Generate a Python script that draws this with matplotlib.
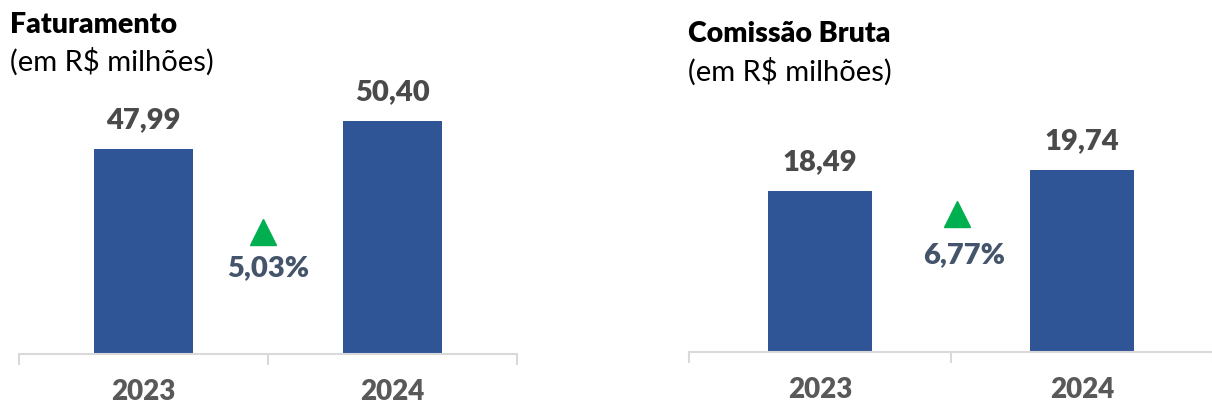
import matplotlib
matplotlib.use("Agg")
import matplotlib.pyplot as plt

plt.rcParams['font.family'] = ['Lato', 'DejaVu Sans']

years = ["2023", "2024"]
fat_values = [47.99, 50.40]
fat_labels = ["47,99", "50,40"]
fat_growth = "5,03%"
com_values = [18.49, 19.74]
com_labels = ["18,49", "19,74"]
com_growth = "6,77%"

W, H = 1212, 405
DPI = 100
fig = plt.figure(figsize=(W / DPI, H / DPI), dpi=DPI)

BAR = "#2F5597"
AXC = "#D9D9D9"
VAL = "#4A4A4A"
PCT = "#44546A"
TRI = "#00B050"
BOLD = "heavy"


def px_rect(x0, x1, ytop, ybot):
    return [x0 / W, 1 - ybot / H, (x1 - x0) / W, (ybot - ytop) / H]


def panel(rect, values, labels, ylim, growth, tri_xy, pct_xy):
    ax = fig.add_axes(rect)
    x = list(range(len(values)))
    ax.bar(x, [v - ylim[0] for v in values], bottom=ylim[0], width=0.4, color=BAR, zorder=2)
    ax.set_xlim(-0.5, 1.5)
    ax.set_ylim(*ylim)
    for s in ["top", "right", "left"]:
        ax.spines[s].set_visible(False)
    ax.spines["bottom"].set_color(AXC)
    ax.spines["bottom"].set_linewidth(1.5)
    ax.set_yticks([])
    ax.set_xticks([-0.5, 0.5, 1.5])
    ax.set_xticklabels([])
    ax.tick_params(axis="x", which="major", length=8, width=1.5, color=AXC)
    for xi, yr in zip(x, years):
        ax.annotate(yr, (xi, 0), xycoords=("data", "axes fraction"),
                    xytext=(0, -27), textcoords="offset points",
                    ha="center", va="center", fontsize=20, fontweight=BOLD, color="#595959")
    for xi, v, lab in zip(x, values, labels):
        ax.annotate(lab, (xi, v), xytext=(0, 21), textcoords="offset points",
                    ha="center", va="center", fontsize=21, fontweight=BOLD, color=VAL)
    ax.plot([tri_xy[0]], [tri_xy[1]], marker="^", markersize=19, color=TRI,
            transform=ax.get_xaxis_transform(), clip_on=False, linestyle="none")
    ax.text(pct_xy[0], pct_xy[1], growth, transform=ax.get_xaxis_transform(),
            ha="center", va="center", fontsize=21, fontweight=BOLD, color=PCT)
    return ax


panel(px_rect(19, 517, 0, 354), fat_values, fat_labels, (30.35, 60.85), fat_growth,
      (0.48, 0.345), (0.5, 0.243))
panel(px_rect(689, 1213, 0, 352), com_values, com_labels, (8.9, 29.85), com_growth,
      (0.523, 0.392), (0.55, 0.276))

fig.text(10 / W, 1 - 25 / H, "Faturamento", fontsize=20.5, fontweight=BOLD,
         color="black", ha="left", va="center")
fig.text(10 / W, 1 - 62 / H, "(em R$ milhões)", fontsize=21, color="black",
         ha="left", va="center")
fig.text(688 / W, 1 - 34 / H, "Comissão Bruta", fontsize=20.5, fontweight=BOLD,
         color="black", ha="left", va="center")
fig.text(688 / W, 1 - 72 / H, "(em R$ milhões)", fontsize=21, color="black",
         ha="left", va="center")

fig.savefig("out.png", dpi=DPI)
